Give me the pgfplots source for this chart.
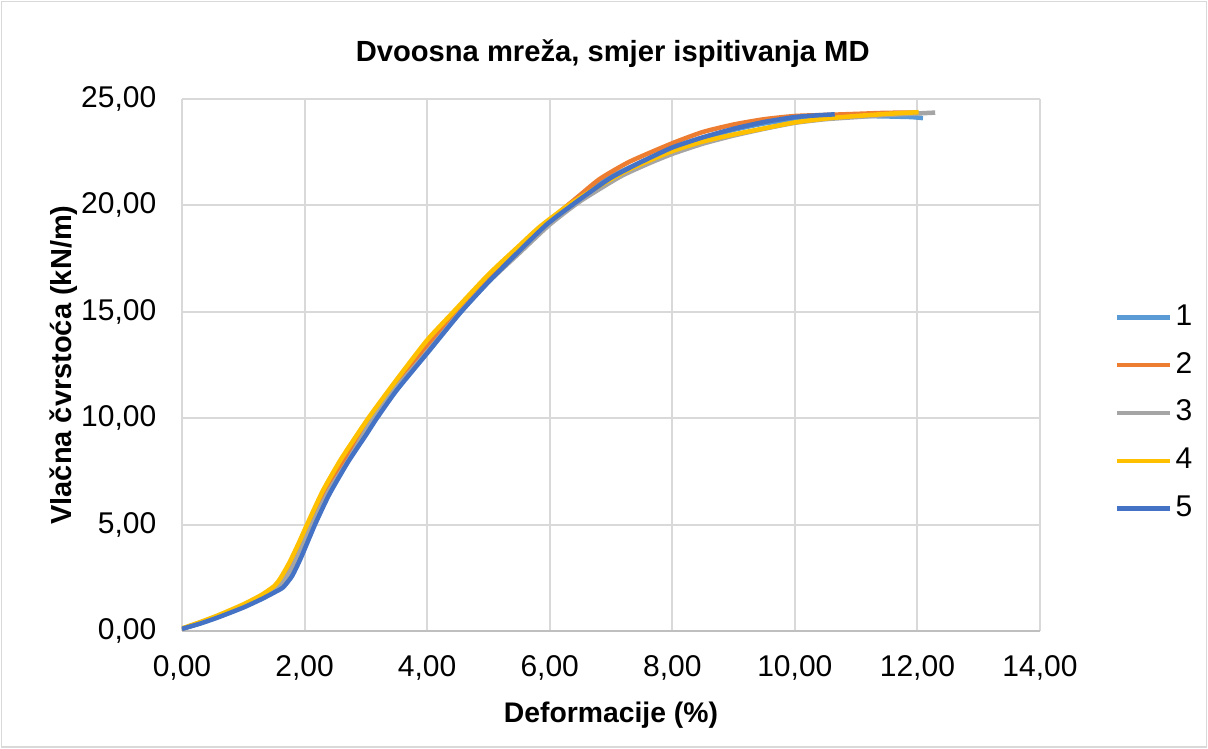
\documentclass[border=0pt]{standalone}
\usepackage{fontspec}
\setmainfont{Liberation Sans}
\usepackage{pgfplots}
\pgfplotsset{compat=1.18}

\definecolor{s1}{HTML}{5B9BD5}
\definecolor{s2}{HTML}{ED7D31}
\definecolor{s3}{HTML}{A5A5A5}
\definecolor{s4}{HTML}{FFC000}
\definecolor{s5}{HTML}{4472C4}
\definecolor{gridgray}{HTML}{D9D9D9}
\definecolor{axisgray}{HTML}{BFBFBF}

\begin{document}
\begin{tikzpicture}
\path[use as bounding box] (-54.6pt,-35.4pt) rectangle (307.8pt,189.3pt);
\draw[gridgray, line width=0.5pt] (-54.1pt,-34.9pt) rectangle (307.3pt,188.8pt);
\begin{axis}[
    scale only axis,
    width=257.4pt, height=159.6pt,
    xmin=0, xmax=14, ymin=0, ymax=25,
    xtick={0,2,...,14}, ytick={0,5,...,25},
    grid=major,
    major grid style={draw=gridgray, line width=0.6pt},
    axis x line*=bottom, axis y line*=left,
    x axis line style={draw=axisgray, line width=0.6pt, -},
    y axis line style={draw=none},
    major tick length=0pt,
    /pgf/number format/.cd, fixed, fixed zerofill, precision=2, use comma, assume math mode=true,
    /pgfplots/.cd,
    tick label style={font=\fontsize{9}{10}\selectfont},
    xticklabel style={yshift=-3.8pt},
    yticklabel style={xshift=-4.2pt},
    title={\textbf{Dvoosna mreža, smjer ispitivanja MD}},
    title style={font=\fontsize{8.75}{10}\selectfont, at={(axis description cs:0.502,1)}, anchor=base, yshift=5.3pt},
    xlabel={\textbf{Deformacije (\%)}},
    xlabel style={font=\fontsize{8.5}{10}\selectfont, at={(axis description cs:0.5,0)}, anchor=base, yshift=-27.6pt},
    ylabel={\textbf{Vlačna čvrstoća (kN/m)}},
    ylabel style={font=\fontsize{8.7}{10}\selectfont, at={(axis description cs:0,0.5)}, anchor=base, yshift=33pt},
    legend style={draw=none, fill=none, at={(1.0745,0.41)}, anchor=west,
        font=\fontsize{9}{10}\selectfont, row sep=4.6pt,
        nodes={inner sep=1pt}},
    legend cell align=left,
    legend image code/.code={\draw[#1] (0pt,0pt) -- (16pt,0pt);},
    every axis plot/.append style={line width=1.35pt, no markers, line join=round, smooth, tension=0.35},
]
\addplot[s1] coordinates {
 (0,0.1) (0.3,0.37) (0.6,0.68) (1.0,1.13) (1.3,1.53) (1.5,1.86) (1.63,2.12) (1.78,2.75)
 (1.93,3.6) (2.13,5.0) (2.38,6.5) (2.68,7.95) (3.12,10.0) (3.5,11.4) (4.0,13.1) (4.5,14.9)
 (5.0,16.5) (5.5,17.9) (6.0,19.25) (6.5,20.4) (7.0,21.35) (7.5,22.05) (8.0,22.68)
 (8.5,23.15) (9.0,23.55) (9.5,23.85) (10.0,24.05) (10.5,24.15) (11.0,24.2) (11.5,24.18)
 (11.9,24.15) (12.09,24.1)};
\addplot[s2] coordinates {
 (0,0.1) (0.3,0.4) (0.6,0.72) (1.0,1.2) (1.3,1.62) (1.5,2.0) (1.6,2.3) (1.75,3.0)
 (1.9,3.9) (2.08,5.0) (2.35,6.6) (2.65,8.0) (3.08,10.0) (3.5,11.65) (4.0,13.44) (4.48,15.0)
 (5.0,16.6) (5.5,18.0) (6.0,19.3) (6.5,20.5) (6.82,21.25) (7.3,22.05) (8.0,22.92)
 (8.5,23.45) (9.0,23.8) (9.5,24.05) (10.0,24.2) (10.5,24.25) (11.0,24.3) (11.5,24.35)
 (12.0,24.36)};
\addplot[s3] coordinates {
 (0,0.1) (0.3,0.38) (0.6,0.7) (1.0,1.15) (1.3,1.55) (1.5,1.9) (1.62,2.2) (1.78,2.9)
 (1.95,3.9) (2.12,5.0) (2.4,6.6) (2.7,7.95) (3.12,10.0) (3.5,11.45) (4.0,13.1) (4.5,14.85)
 (5.0,16.4) (5.5,17.75) (6.0,19.1) (6.5,20.2) (7.15,21.35) (7.6,21.95) (8.0,22.42)
 (8.5,22.9) (9.0,23.28) (9.5,23.6) (10.0,23.88) (10.5,24.05) (11.0,24.15) (11.5,24.25)
 (12.0,24.32) (12.29,24.36)};
\addplot[s4] coordinates {
 (0,0.12) (0.3,0.42) (0.6,0.75) (1.0,1.25) (1.3,1.7) (1.5,2.1) (1.6,2.45) (1.75,3.2)
 (1.9,4.1) (2.04,5.0) (2.3,6.6) (2.6,8.1) (3.04,10.0) (3.5,11.8) (4.0,13.67) (4.43,15.0)
 (5.0,16.75) (5.5,18.1) (5.84,19.0) (6.3,20.0) (6.8,20.9) (7.3,21.7) (8.0,22.55)
 (8.5,23.0) (9.0,23.33) (9.5,23.62) (10.0,23.9) (10.5,24.08) (11.0,24.2) (11.5,24.3)
 (12.02,24.38)};
\addplot[s5] coordinates {
 (0,0.1) (0.3,0.35) (0.6,0.65) (1.0,1.1) (1.3,1.5) (1.5,1.8) (1.65,2.05) (1.8,2.6)
 (1.95,3.5) (2.17,5.0) (2.4,6.4) (2.7,7.9) (3.0,9.2) (3.18,10.0) (3.5,11.3) (4.0,13.05)
 (4.54,14.95) (5.0,16.4) (5.5,17.85) (5.97,19.15) (6.5,20.3) (7.0,21.3) (7.5,22.05)
 (8.0,22.72) (8.5,23.2) (9.0,23.6) (9.5,23.92) (10.0,24.15) (10.3,24.22) (10.65,24.28)};
\legend{1,2,3,4,5}
\end{axis}
\end{tikzpicture}
\end{document}
